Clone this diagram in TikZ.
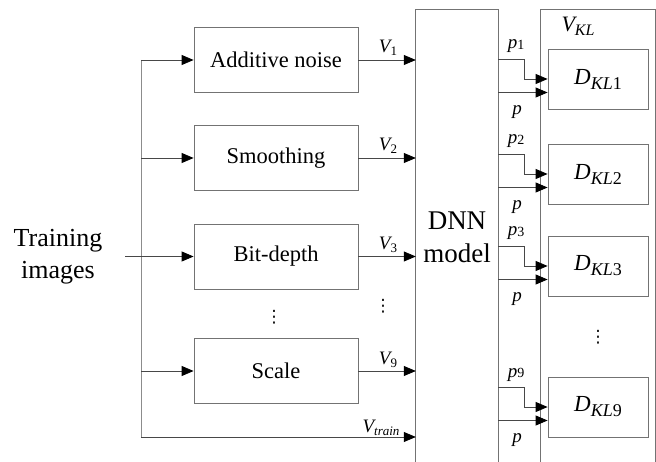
\documentclass[tikz,border=0pt]{standalone}
\usepackage{fontspec}
\setmainfont{Liberation Serif}
\newfontfamily\dvfont{DejaVu Sans}
\usetikzlibrary{arrows.meta,calc}
\newcommand{\fs}[2]{\fontsize{#1}{#2}\selectfont}
\newcommand{\Vs}[1]{{\fs{19}{22}\itshape V}\raisebox{-3pt}{\fs{13}{15}#1}}
\newcommand{\Ps}[1]{{\fs{19}{22}\itshape p}\raisebox{-0.5pt}{\fs{14}{16}#1}}
\newcommand{\DKL}[1]{{\fs{23}{26}\itshape D}\raisebox{-5pt}{\fs{18}{20}\itshape KL\upshape #1}}
\begin{document}
\begin{tikzpicture}[x=1pt,y=-1pt,
  box/.style={draw=black!55, line width=0.8pt, minimum width=164pt, minimum height=65pt, inner sep=0pt, font=\fs{22.5}{26}},
  dbox/.style={draw=black!55, line width=0.8pt, minimum width=100pt, minimum height=60pt, inner sep=0pt},
  frame/.style={draw=black!55, line width=0.8pt},
  conn/.style={draw=black!72, line width=0.8pt},
  arr/.style={conn, -{Triangle[length=12pt,width=10pt,color=black]}},
  lbl/.style={inner sep=0pt, anchor=base},
  dots/.style={inner sep=0pt, font=\dvfont\fs{17}{20}}]
\useasboundingbox (0,0) rectangle (656,462);

% input
\node[inner sep=0pt, align=center, font=\fs{26}{32}] (train) at (58,257) {Training\\images};
\coordinate (tin) at (125,256.5);
\coordinate (bt) at (141,60);
\coordinate (bb) at (141,437);

% distortion boxes
\node[box] (an) at (276,60) {Additive noise};
\node[box] (sm) at (276,158) {Smoothing};
\node[box] (bd) at (276,256.5) {Bit-depth};
\node[box] (sc) at (276,371) {Scale};
\node[dots] (d1) at (274,317) {⋮};

% bus
\draw[conn, draw=black!45] (bt) -- (bb);
\draw[arr] (bt) -- (an.west);
\draw[arr] (bt |- sm.west) -- (sm.west);
\draw[arr] (bt |- sc.west) -- (sc.west);
\draw[arr] (tin) -- (bd.west);

% DNN
\node[minimum width=82pt, minimum height=452pt, inner sep=0pt] (dnn) at (457,236) {};
\draw[frame] (dnn.south west) -- (dnn.north west) -- (dnn.north east) -- (dnn.south east);
\node[align=center, font=\fs{27}{33}, inner sep=0pt] (dnnt) at (457,237) {DNN\\model};

\draw[arr] (an.east) -- (an.east -| dnn.west);
\draw[arr] (sm.east) -- (sm.east -| dnn.west);
\draw[arr] (bd.east) -- (bd.east -| dnn.west);
\draw[arr] (sc.east) -- (sc.east -| dnn.west);
\draw[arr] (bb) -- (bb -| dnn.west);
\node[lbl] (v1) at (388,53) {\Vs{1}};
\node[lbl] (v2) at (388,151) {\Vs{2}};
\node[lbl] (v3) at (388,249.5) {\Vs{3}};
\node[lbl] (v9) at (388,364) {\Vs{9}};
\node[lbl] (vt) at (381,432) {\Vs{\itshape train}};
\node[dots] (d2) at (383,306) {⋮};

% KL frame
\node[minimum width=114pt, minimum height=452pt, inner sep=0pt] (vkl) at (598,236) {};
\draw[frame] (vkl.south west) -- (vkl.north west) -- (vkl.north east) -- (vkl.south east);
\node[lbl] (vkll) at (578,32) {{\fs{22}{24}\itshape V}\raisebox{-4pt}{\fs{16}{18}\itshape KL}};

\node[dbox] (k1) at (598,79) {\DKL{1}};
\node[dbox] (k2) at (598,174) {\DKL{2}};
\node[dbox] (k3) at (598,266) {\DKL{3}};
\node[dbox] (k9) at (598,407) {\DKL{9}};
\node[dots] (d3) at (598,337) {⋮};

\foreach \k in {1,2,3,9}{
  \draw[arr] (dnn.east |- k\k.west) ++(0,-19.5) -- ++(26,0) -- ++(0,19.5) -- (k\k.west);
  \draw[arr] ($(dnn.east |- k\k.west)+(0,13.5)$) -- ($(k\k.west)+(0,13.5)$);
  \node[lbl] (pk\k) at ($(dnn.east |- k\k.west)+(18,-30)$) {\Ps{\k}};
  \node[lbl] (pp\k) at ($(dnn.east |- k\k.west)+(19,35.5)$) {{\fs{19}{22}\itshape p}};
}
\end{tikzpicture}
\end{document}
